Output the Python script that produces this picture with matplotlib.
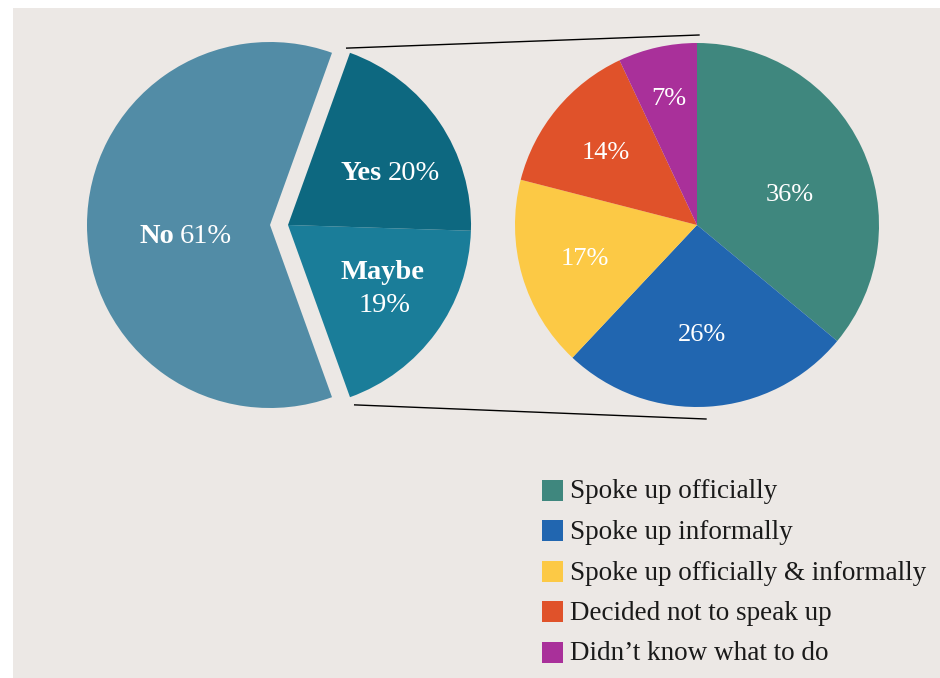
import numpy as np
import matplotlib
matplotlib.use("Agg")
import matplotlib.pyplot as plt
from matplotlib.patches import Rectangle

# Survey: did the respondent witness something worth speaking up about?
left_labels = ["Maybe", "Yes", "No"]
left_values = [19, 20, 61]
left_colors = ["#1A7D99", "#0D6880", "#528CA6"]

# Among those who answered Yes/Maybe: what they did
right_labels = ["Spoke up officially", "Spoke up informally",
                "Spoke up officially & informally", "Decided not to speak up",
                "Didn\u2019t know what to do"]
right_values = [36, 26, 17, 14, 7]
right_colors = ["#3F877E", "#2166B0", "#FCC945", "#E0522A", "#A9309A"]

BG = "#ECE8E5"
plt.rcParams["font.family"] = ["Liberation Serif", "DejaVu Serif"]

W, H = 940, 678
fig = plt.figure(figsize=(W / 100, H / 100), dpi=100, facecolor="white")
ax = fig.add_axes([13 / W, 0, (W - 13) / W, (H - 8) / H])
ax.set_facecolor(BG)
ax.add_patch(Rectangle((13, 0), W - 13, H - 8, color=BG, zorder=0))

# ---- left pie: Yes+Maybe slice pulled out to the right ----
c1 = np.array([270.0, H - 225.0])
r1 = 183
pull = 18
split = sum(left_values[:2]) / 100 * 360
start1 = -split / 2
wedges1, _ = ax.pie(left_values, colors=left_colors, startangle=start1,
                    counterclock=True, radius=r1, center=tuple(c1),
                    wedgeprops=dict(linewidth=0), frame=True)
for w in wedges1[:2]:
    w.set_center((c1[0] + pull, c1[1]))

cum = np.cumsum([0] + left_values)
mids1 = start1 + (cum[:-1] + cum[1:]) / 2 / 100 * 360
# label placement: radial fraction and angular nudge (degrees)
lab_r1 = [0.61, 0.61, 0.51]
lab_da1 = [3.5, -4.2, 4.9]
LFS = 20.5
for i, (lab, v) in enumerate(zip(left_labels, left_values)):
    cx = c1[0] + (pull if i < 2 else 0)
    a = np.deg2rad(mids1[i] + lab_da1[i])
    x = cx + lab_r1[i] * r1 * np.cos(a)
    y = c1[1] + lab_r1[i] * r1 * np.sin(a) - 4
    if lab == "Maybe":
        ax.text(x, y + 16, lab, color="white", fontsize=LFS, fontweight="bold",
                ha="center", va="center")
        ax.text(x + 2, y - 17, f"{v}%", color="white", fontsize=LFS,
                ha="center", va="center")
    else:
        ax.text(x - 3, y, lab, color="white", fontsize=LFS,
                fontweight="bold", ha="right", va="center")
        ax.text(x + 3, y, f"{v}%", color="white", fontsize=LFS,
                ha="left", va="center")

# ---- right pie: breakdown ----
c2 = np.array([697.0, H - 225.0])
r2 = 182
wedges2, _ = ax.pie(right_values, colors=right_colors, startangle=90,
                    counterclock=False, radius=r2, center=tuple(c2),
                    wedgeprops=dict(linewidth=0), frame=True)
cum2 = np.cumsum([0] + right_values)
mids2 = 90 - (cum2[:-1] + cum2[1:]) / 2 / 100 * 360
lab_r2 = [0.54, 0.59, 0.64, 0.65, 0.725]
lab_da2 = [-5.7, -0.9, -0.7, 0.4, -0.4]
for v, m, rr, da in zip(right_values, mids2, lab_r2, lab_da2):
    a = np.deg2rad(m + da)
    ax.text(c2[0] + rr * r2 * np.cos(a), c2[1] + rr * r2 * np.sin(a) - 3,
            f"{v}%", color="white", fontsize=19, ha="center", va="center")

ax.set_xlim(13, W)
ax.set_ylim(0, H - 8)
ax.set_aspect("auto")
ax.axis("off")

# ---- connector lines from the pulled slice to the breakdown pie ----
edge = np.deg2rad(split / 2)
gap = 5
top_l = (c1[0] + pull + (r1 + gap) * np.cos(edge) - 5, c1[1] + (r1 + gap) * np.sin(edge))
bot_l = (c1[0] + pull + (r1 + gap) * np.cos(edge) + 3, c1[1] - (r1 + gap) * np.sin(edge) - 3)
top_r = (c2[0] + 2, c2[1] + r2 + 8)
bot_r = (c2[0] + 9, c2[1] - r2 - 12)
ax.plot([top_l[0], top_r[0]], [top_l[1], top_r[1]], color="black", lw=1)
ax.plot([bot_l[0], bot_r[0]], [bot_l[1], bot_r[1]], color="black", lw=1)

# ---- legend ----
lx, ly0, step, sq = 542, H - 490, 40.5, 21
for i, (lab, col) in enumerate(zip(right_labels, right_colors)):
    y = ly0 - i * step
    ax.add_patch(Rectangle((lx, y - sq / 2), sq, sq, color=col, lw=0))
    ax.text(lx + sq + 7, y - sq / 2 + 2, lab, fontsize=19.5, color="#1a1a1a",
            ha="left", va="baseline")

fig.savefig("out.png", dpi=100, facecolor="white")
